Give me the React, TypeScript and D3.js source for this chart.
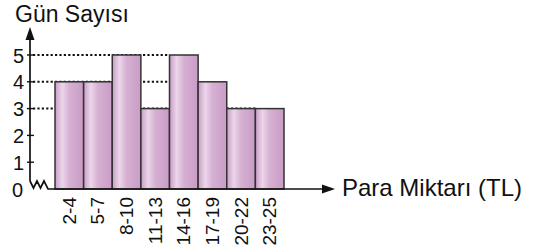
import React, { useEffect, useRef } from 'react';
import * as d3 from 'd3';

// data
const categories = ['2-4', '5-7', '8-10', '11-13', '14-16', '17-19', '20-22', '23-25'];
const days = [4, 4, 5, 3, 5, 4, 3, 3];
const yTicks = [0, 1, 2, 3, 4, 5];
const guideLevels = [3, 4, 5];

const App = () => {
  const svgRef = useRef<SVGSVGElement>(null);

  useEffect(() => {
    const svg = d3.select(svgRef.current);
    svg.selectAll('*').remove();

    const width = 534;
    const height = 249;
    const axisX = 30;
    const font = '"Liberation Sans", Arial, sans-serif';

    svg.attr('width', width).attr('height', height);

    const x = d3.scaleBand<string>().domain(categories).range([55, 284]).padding(0);
    const y = d3.scaleLinear().domain([0, 5]).range([189, 55]);

    // bar gradient
    const grad = svg.append('defs').append('linearGradient')
      .attr('id', 'barGrad')
      .attr('x1', '0%').attr('x2', '100%').attr('y1', '0%').attr('y2', '0%');
    grad.append('stop').attr('offset', '0%').attr('stop-color', '#c99cc6');
    grad.append('stop').attr('offset', '25%').attr('stop-color', '#ebd6ea');
    grad.append('stop').attr('offset', '50%').attr('stop-color', '#d6b0d3');
    grad.append('stop').attr('offset', '100%').attr('stop-color', '#c99cc6');

    // dotted guide lines, drawn behind the bars
    guideLevels.forEach(v => {
      let lastIdx = -1;
      days.forEach((d, i) => { if (d === v) lastIdx = i; });
      const xEnd = lastIdx >= 0 ? (x(categories[lastIdx]) as number) : x.range()[1];
      svg.append('line')
        .attr('x1', axisX + 3).attr('x2', xEnd)
        .attr('y1', y(v)).attr('y2', y(v))
        .attr('stroke', '#111')
        .attr('stroke-width', 2)
        .attr('stroke-dasharray', '2.2,2.2');
    });

    // bars
    svg.selectAll('.bar')
      .data(days)
      .enter()
      .append('rect')
      .attr('class', 'bar')
      .attr('x', (d, i) => x(categories[i]) as number)
      .attr('y', d => y(d))
      .attr('width', x.bandwidth())
      .attr('height', d => y(0) - y(d))
      .attr('fill', 'url(#barGrad)')
      .attr('stroke', '#333')
      .attr('stroke-width', 1.5);

    // y axis with arrow
    svg.append('line')
      .attr('x1', axisX).attr('x2', axisX)
      .attr('y1', 38).attr('y2', y(0) - 8)
      .attr('stroke', '#111').attr('stroke-width', 1.7);
    svg.append('path')
      .attr('d', `M${axisX},27 L${axisX - 4.5},40 L${axisX + 4.5},40 Z`)
      .attr('fill', '#111');

    // break zigzag
    const b = y(0);
    svg.append('path')
      .attr('d', `M${axisX},${b - 8} L${axisX + 3.5},${b - 1} L${axisX + 7},${b - 8} L${axisX + 10.5},${b - 1} L${axisX + 14},${b - 8} L${axisX + 18},${b} L55,${b}`)
      .attr('fill', 'none')
      .attr('stroke', '#111').attr('stroke-width', 1.7);

    // x axis with arrow
    svg.append('line')
      .attr('x1', 55).attr('x2', 323)
      .attr('y1', b).attr('y2', b)
      .attr('stroke', '#111').attr('stroke-width', 1.7);
    svg.append('path')
      .attr('d', `M335,${b} L322,${b - 4.5} L322,${b + 4.5} Z`)
      .attr('fill', '#111');

    // y ticks and labels
    yTicks.forEach(v => {
      if (v > 0) {
        svg.append('line')
          .attr('x1', axisX - 3).attr('x2', axisX + 4)
          .attr('y1', y(v)).attr('y2', y(v))
          .attr('stroke', '#111').attr('stroke-width', 1.4);
      }
      svg.append('text')
        .attr('x', v === 0 ? 23 : 24)
        .attr('y', y(v) + (v === 0 ? 8 : 7.5))
        .attr('text-anchor', 'end')
        .attr('font-family', font)
        .attr('font-size', '20px')
        .attr('fill', '#111')
        .text(v);
    });

    // x labels rotated
    categories.forEach(c => {
      const cx = (x(c) as number) + x.bandwidth() / 2;
      svg.append('text')
        .attr('transform', `translate(${cx + 6.5},${b + 8}) rotate(-90)`)
        .attr('text-anchor', 'end')
        .attr('font-family', font)
        .attr('font-size', '19px')
        .attr('fill', '#111')
        .text(c);
    });

    // axis titles
    svg.append('text')
      .attr('x', 15).attr('y', 22)
      .attr('font-family', font)
      .attr('font-size', '23px')
      .attr('fill', '#111')
      .text('Gün Sayısı');

    svg.append('text')
      .attr('x', 342).attr('y', 196)
      .attr('font-family', font)
      .attr('font-size', '24px')
      .attr('fill', '#111')
      .text('Para Miktarı (TL)');
  }, []);

  return (
    <div style={{ position: 'absolute', left: 0, top: 0 }}>
      <svg ref={svgRef} style={{ display: 'block' }}></svg>
    </div>
  );
};

export default App;
